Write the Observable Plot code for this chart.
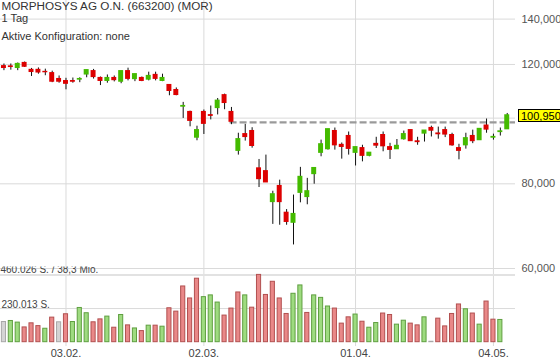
<!DOCTYPE html>
<html>
<head>
<meta charset="utf-8">
<script src="https://cdn.jsdelivr.net/npm/d3@7"></script>
<script src="https://cdn.jsdelivr.net/npm/@observablehq/plot@0.6"></script>
<style>
  body { margin: 0; background: #fff; }
  #wrap { position: relative; width: 560px; height: 362px; overflow: hidden; font-family: "Liberation Sans", Arial, sans-serif; }
  #wrap svg { position: absolute; left: 0; top: 0; }
  #wrap svg.vol { clip-path: inset(266.5px 0 0 0); }
  #last { position: absolute; left: 518px; width: 41px; height: 11px; line-height: 11px; background: #ffff00; border: 1px solid #000;
          font: 11px "Liberation Sans", Arial, sans-serif; color: #000; padding-left: 2px; box-sizing: content-box; }
</style>
</head>
<body>
<div id="wrap"></div>
<script>
// ---- data (MorphoSys, daily candles, EUR) ----
const titleText = "MORPHOSYS AG O.N. (663200) (MOR)";
const periodText = "1 Tag";
const configText = "Aktive Konfiguration: none";

const open = [119.3,119.2,118.6,120.6,117.8,117.8,117.0,116.5,114.2,113.4,
  113.4,114.0,116.0,117.3,114.6,113.5,114.6,113.2,117.3,114.2,
  114.6,114.0,115.8,113.5,111.9,110.0,104.0,102.1,93.6,102.1,
  101.0,103.5,108.1,102.1,89.5,94.7,95.7,84.3,83.5,75.2,
  79.4,72.5,70.1,77.6,76.5,82.7,88.9,90.0,95.7,91.3,
  94.1,88.9,90.3,88.0,91.6,94.4,90.6,90.0,93.1,96.0,
  92.4,94.9,96.7,94.9,96.0,94.4,90.3,91.2,94.1,92.8,
  97.5,93.6,95.4,96.3];
const high = [120.2,120.2,120.6,121.0,118.4,118.6,118.1,117.3,115.4,114.5,
  114.6,114.7,117.7,118.0,115.0,115.8,115.4,117.3,118.5,116.1,
  115.0,116.9,116.9,116.1,111.9,110.8,105.5,102.4,97.3,102.8,
  104.2,106.9,108.5,103.7,95.0,97.9,96.8,86.9,88.2,78.0,
  81.0,73.3,77.0,84.6,81.5,84.4,92.8,96.3,96.7,91.9,
  95.4,90.6,91.2,88.9,93.7,95.4,91.8,93.0,95.7,96.0,
  93.7,95.85,97.3,97.0,97.0,95.0,91.5,95.0,96.0,96.4,
  99.7,94.7,96.7,101.6];
const low = [117.5,117.7,117.5,118.8,115.2,116.1,115.5,112.8,112.6,110.1,
  112.6,112.8,114.7,114.2,111.7,112.6,113.1,112.4,113.5,113.2,
  113.2,113.5,113.5,113.2,107.9,107.9,99.9,97.1,92.6,94.6,
  99.4,101.1,102.9,97.8,88.2,92.5,90.3,79.0,80.4,69.7,
  69.5,69.5,65.0,75.0,74.5,79.9,87.7,89.7,89.7,87.0,
  88.2,85.0,86.2,87.7,90.2,89.2,86.9,90.0,92.8,92.5,
  91.2,92.2,93.8,93.1,93.6,90.9,86.8,90.0,91.7,92.8,
  95.0,92.8,94.1,96.3];
const close = [118.6,119.0,120.2,119.1,117.0,116.8,116.9,113.2,113.2,112.4,
  113.2,114.2,117.7,115.0,113.5,114.6,113.8,117.3,114.3,116.1,
  113.5,115.4,114.3,114.6,109.7,108.2,104.2,99.1,96.0,98.1,
  100.8,106.1,105.3,98.8,93.1,93.8,91.0,81.3,80.4,77.2,
  75.2,70.3,72.2,81.9,78.0,84.4,91.5,96.3,91.2,90.7,
  90.1,90.6,88.0,88.9,91.1,90.9,89.8,91.0,94.7,92.5,
  92.2,95.85,95.85,94.7,94.6,91.2,89.5,93.4,92.5,96.4,
  96.2,93.8,95.6,100.95];
const volume = [138000,145000,134000,101000,129000,110000,92000,168000,136000,191000,
  138000,234000,198000,136000,156000,175000,99000,186000,115000,94000,
  76000,113000,113000,106000,232000,209000,381000,299000,434000,308000,
  320000,271000,182000,230000,340000,320000,236000,460026,323000,413000,
  299000,193000,331000,388000,200000,320000,303000,244000,230000,127000,
  170000,189000,140000,99000,131000,196000,186000,120000,147000,127000,
  115000,170000,3000,161000,108000,193000,258000,225000,196000,120000,
  278000,154000,152000,null];
const turnoverMio = 38.3;

const tickIdx = [9, 29, 51, 71];
const tickLabels = ["03.02.", "02.03.", "01.04.", "04.05."];
const priceGrid = [60, 80, 100, 120, 140];
const priceLabels = [60, 80, 120, 140];
const refLevel = 98.55;   // dashed horizontal line
const refFrom = 32.8;     // starting candle position

// ---- build ----
const de = d3.formatLocale({decimal: ",", thousands: ".", grouping: [3], currency: ["", " €"]});
const fmtPrice = de.format(".3f");
const fmtVol = de.format(",d");

const RED = "#dd0000", GREEN = "#44bb00";
const candles = close.map((c, i) => ({i, open: open[i], high: high[i], low: low[i], close: c}));
const vols = volume.map((v, i) => v == null ? null : ({
  i, v, dir: i === 0 ? 0 : Math.sign(close[i] - close[i - 1])
})).filter(Boolean);
const volMax = d3.max(volume);

const W = 560, H = 362;
const xDomain = [-0.5, 74.2];
const font = '"Liberation Sans", Arial, sans-serif';
const common = {
  width: W, height: H, marginLeft: 0, marginRight: 45, marginTop: 0, marginBottom: 16,
  style: {fontFamily: font, fontSize: "11px", color: "#444", background: "transparent", overflow: "visible"}
};

const pricePlot = Plot.plot({
  ...common,
  x: {domain: xDomain},
  y: {type: "log", domain: [60, 140], range: [268, 18.6]},
  marks: [
    Plot.ruleX(tickIdx, {stroke: "#dadada"}),
    Plot.ruleY(priceGrid, {stroke: "#dadada"}),
    Plot.text([titleText], {frameAnchor: "top-left", textAnchor: "start", lineAnchor: "top", dx: 1, dy: 1.0, fill: "#333", fontSize: 11.7}),
    Plot.text([periodText], {frameAnchor: "top-left", textAnchor: "start", lineAnchor: "top", dx: 1, dy: 13.6, fill: "#333"}),
    Plot.text([configText], {frameAnchor: "top-left", textAnchor: "start", lineAnchor: "top", dx: 1, dy: 31.6, fill: "#333"}),
    Plot.ruleY([refLevel], {x1: refFrom, x2: xDomain[1], stroke: "#9a9a9a", strokeWidth: 2.2, strokeDasharray: "7,3"}),
    Plot.ruleX(candles, {x: "i", y1: "low", y2: "high", stroke: "#111", strokeWidth: 1}),
    Plot.rect(candles, {
      x1: d => d.i - 0.36, x2: d => d.i + 0.36, y1: "open", y2: "close",
      fill: d => d.close >= d.open ? GREEN : RED, insetTop: -0.6, insetBottom: -0.6
    }),
    Plot.axisY(priceLabels, {anchor: "right", tickSize: 0, tickPadding: 6, tickFormat: fmtPrice, label: null, fill: "#555"}),
    Plot.axisX(tickIdx, {anchor: "bottom", tickSize: 0, tickPadding: 3, label: null, fill: "#444",
      tickFormat: d => tickLabels[tickIdx.indexOf(d)]})
  ]
});

const volFill = d => d.dir > 0 ? "#9edb80" : d.dir < 0 ? "#e98888" : "#d4d4d4";
const volStroke = d => d.dir > 0 ? "#5f9f40" : d.dir < 0 ? "#b25050" : "#a8a8a8";

const volPlot = Plot.plot({
  ...common,
  x: {domain: xDomain, axis: null},
  y: {domain: [0, volMax], range: [341.7, 274.4], axis: null},
  marks: [
    Plot.ruleY([volMax], {stroke: "#e2e2e2", strokeWidth: 2}),
    Plot.ruleY([volMax / 2], {stroke: "#dadada"}),
    Plot.rect(vols, {x1: d => d.i - 0.3, x2: d => d.i + 0.3, y1: 0, y2: "v", fill: volFill, stroke: volStroke, strokeWidth: 1}),
    Plot.text([volMax], {y: d => d, text: d => `${fmtVol(d)} S. / ${de.format(".1f")(turnoverMio)} Mio.`,
      frameAnchor: "left", textAnchor: "start", lineAnchor: "bottom", dx: 0, dy: -2, fill: "#444", fontSize: 10}),
    Plot.text([volMax / 2], {y: d => d, text: d => `${fmtVol(Math.round(d))} S.`,
      frameAnchor: "left", textAnchor: "start", lineAnchor: "bottom", dx: 1, dy: -1, fill: "#444", fontSize: 10})
  ]
});
volPlot.classList.add("vol");

const wrap = document.getElementById("wrap");
wrap.appendChild(pricePlot);
wrap.appendChild(volPlot);

const last = candles[candles.length - 1];
const lab = document.createElement("div");
lab.id = "last";
lab.textContent = fmtPrice(last.close);
lab.style.top = (pricePlot.scale("y").apply(last.close) - 6.3) + "px";
wrap.appendChild(lab);
</script>
</body>
</html>
